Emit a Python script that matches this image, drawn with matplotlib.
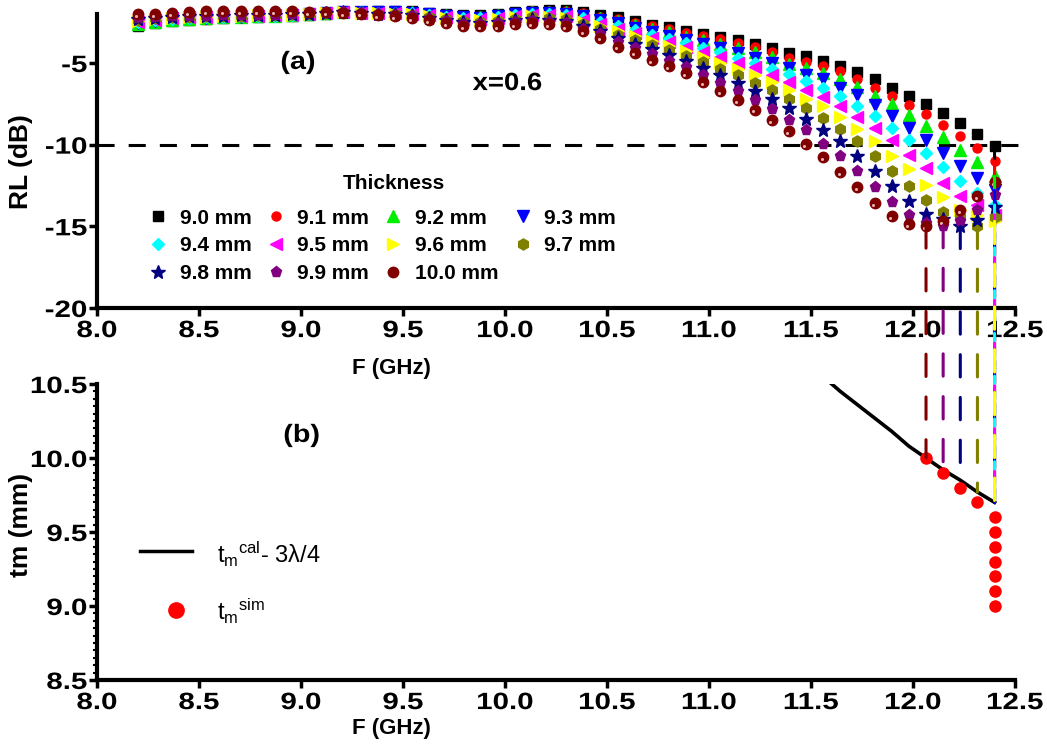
import numpy as np
import matplotlib
matplotlib.use("Agg")
import matplotlib.pyplot as plt
import matplotlib.patheffects as pe
from matplotlib.patches import ConnectionPatch
from matplotlib.transforms import offset_copy, Affine2D

plt.rcParams['font.family'] = ['Liberation Sans', 'DejaVu Sans']
plt.rcParams['axes.unicode_minus'] = False
plt.rcParams['mathtext.fontset'] = 'custom'
plt.rcParams['mathtext.rm'] = 'Liberation Sans'
plt.rcParams['mathtext.it'] = 'Liberation Sans:italic'
plt.rcParams['mathtext.bf'] = 'Liberation Sans:bold'


class HStretch(pe.AbstractPathEffect):
    """Widen a text path horizontally about its left, centre or right edge."""

    def __init__(self, sx, anchor='center'):
        super().__init__()
        self.sx = sx
        self.anchor = anchor

    def draw_path(self, renderer, gc, tpath, affine, rgbFace=None):
        ext = tpath.get_extents(affine)
        if self.anchor == 'right':
            x0 = ext.x1
        elif self.anchor == 'left':
            x0 = ext.x0
        else:
            x0 = 0.5 * (ext.x0 + ext.x1)
        aff = affine + Affine2D().translate(-x0, 0).scale(self.sx, 1).translate(x0, 0)
        renderer.draw_path(gc, tpath, aff, rgbFace)


# ---------------- data ----------------
freq = np.round(np.linspace(8.2, 12.4, 51), 3)   # GHz, X-band sweep

labels = ['9.0 mm', '9.1 mm', '9.2 mm', '9.3 mm', '9.4 mm', '9.5 mm',
          '9.6 mm', '9.7 mm', '9.8 mm', '9.9 mm', '10.0 mm']
thickness = [9.0, 9.1, 9.2, 9.3, 9.4, 9.5, 9.6, 9.7, 9.8, 9.9, 10.0]

rl_90 = [-2.72, -2.55, -2.42, -2.34, -2.28, -2.24, -2.20, -2.17, -2.14, -2.10,
         -2.05, -1.98, -1.90, -1.86, -1.84, -1.83, -1.84, -1.92, -2.02, -2.08,
         -2.08, -2.00, -1.88, -1.80, -1.75, -1.78, -1.90, -2.09, -2.21, -2.45,
         -2.65, -2.82, -3.05, -3.20, -3.38, -3.62, -3.85, -4.08, -4.37, -4.58,
         -4.89, -5.20, -5.56, -6.01, -6.52, -6.99, -7.50, -8.06, -8.70, -9.35, -10.10]
rl_91 = [-2.66, -2.51, -2.39, -2.31, -2.26, -2.22, -2.19, -2.16, -2.13, -2.09,
         -2.04, -1.97, -1.90, -1.87, -1.86, -1.85, -1.86, -1.95, -2.05, -2.12,
         -2.12, -2.04, -1.92, -1.84, -1.79, -1.83, -1.96, -2.16, -2.30, -2.55,
         -2.76, -2.94, -3.18, -3.35, -3.55, -3.80, -4.05, -4.30, -4.70, -4.95,
         -5.20, -5.50, -6.01, -6.52, -6.99, -7.55, -8.10, -8.77, -9.49, -10.20, -11.00]
rl_92 = [-2.61, -2.47, -2.36, -2.29, -2.24, -2.20, -2.17, -2.14, -2.12, -2.08,
         -2.03, -1.96, -1.90, -1.88, -1.88, -1.87, -1.89, -1.98, -2.09, -2.16,
         -2.17, -2.09, -1.97, -1.89, -1.86, -1.90, -2.05, -2.27, -2.44, -2.70,
         -2.93, -3.13, -3.39, -3.58, -3.81, -4.09, -4.30, -4.65, -5.05, -5.29,
         -5.60, -6.01, -6.46, -6.99, -7.50, -8.16, -8.83, -9.55, -10.35, -11.07, -11.94]
rl_93 = [-2.56, -2.43, -2.33, -2.26, -2.22, -2.19, -2.16, -2.13, -2.11, -2.07,
         -2.02, -1.96, -1.90, -1.89, -1.90, -1.90, -1.92, -2.01, -2.13, -2.21,
         -2.22, -2.14, -2.02, -1.94, -1.93, -1.98, -2.15, -2.37, -2.58, -2.85,
         -3.10, -3.32, -3.59, -3.82, -4.08, -4.38, -4.72, -5.00, -5.30, -5.71,
         -5.97, -6.52, -6.93, -7.55, -8.26, -8.98, -9.69, -10.51, -11.33, -12.05, -12.80]
rl_94 = [-2.51, -2.39, -2.30, -2.24, -2.20, -2.17, -2.14, -2.12, -2.10, -2.06,
         -2.01, -1.95, -1.90, -1.90, -1.92, -1.92, -1.95, -2.05, -2.17, -2.26,
         -2.27, -2.20, -2.08, -2.00, -2.00, -2.05, -2.24, -2.48, -2.73, -3.00,
         -3.27, -3.51, -3.80, -4.06, -4.34, -4.67, -5.00, -5.35, -5.68, -6.12,
         -6.52, -7.04, -7.65, -8.26, -8.98, -9.69, -10.51, -11.37, -12.25, -12.95, -13.70]
rl_95 = [-2.46, -2.35, -2.27, -2.21, -2.18, -2.15, -2.13, -2.10, -2.08, -2.05,
         -2.00, -1.94, -1.90, -1.91, -1.94, -1.95, -1.98, -2.09, -2.21, -2.31,
         -2.33, -2.26, -2.14, -2.06, -2.07, -2.14, -2.34, -2.60, -2.89, -3.18,
         -3.46, -3.73, -4.03, -4.32, -4.64, -5.00, -5.25, -5.75, -6.15, -6.63,
         -7.07, -7.65, -8.30, -8.98, -9.69, -10.61, -11.43, -12.35, -13.17, -13.70, -14.30]
rl_96 = [-2.41, -2.31, -2.24, -2.19, -2.16, -2.14, -2.11, -2.09, -2.07, -2.04,
         -1.99, -1.94, -1.90, -1.92, -1.96, -1.97, -2.01, -2.13, -2.26, -2.37,
         -2.39, -2.33, -2.21, -2.13, -2.16, -2.23, -2.46, -2.74, -3.06, -3.37,
         -3.68, -3.97, -4.29, -4.62, -4.97, -5.36, -5.72, -6.19, -6.65, -7.18,
         -7.65, -8.33, -9.02, -9.75, -10.72, -11.49, -12.45, -13.23, -13.99, -14.30, -14.70]
rl_97 = [-2.36, -2.27, -2.21, -2.16, -2.14, -2.12, -2.10, -2.08, -2.06, -2.03,
         -1.98, -1.93, -1.90, -1.93, -1.98, -2.00, -2.04, -2.17, -2.31, -2.43,
         -2.46, -2.40, -2.28, -2.21, -2.25, -2.33, -2.59, -2.89, -3.26, -3.58,
         -3.91, -4.23, -4.58, -4.94, -5.34, -5.76, -6.21, -6.67, -7.20, -7.75,
         -8.36, -9.04, -9.75, -10.72, -11.64, -12.52, -13.37, -14.15, -14.45, -15.00, -14.40]
rl_98 = [-2.31, -2.23, -2.18, -2.14, -2.12, -2.10, -2.08, -2.06, -2.05, -2.02,
         -1.97, -1.92, -1.90, -1.94, -2.00, -2.03, -2.08, -2.22, -2.37, -2.50,
         -2.54, -2.48, -2.37, -2.30, -2.35, -2.45, -2.73, -3.05, -3.47, -3.81,
         -4.17, -4.52, -4.89, -5.29, -5.74, -6.20, -6.72, -7.20, -7.77, -8.41,
         -9.08, -9.80, -10.72, -11.60, -12.56, -13.48, -14.25, -14.55, -15.00, -14.60, -13.80]
rl_99 = [-2.25, -2.19, -2.15, -2.11, -2.10, -2.08, -2.06, -2.05, -2.04, -2.01,
         -1.96, -1.92, -1.90, -1.95, -2.03, -2.07, -2.12, -2.28, -2.44, -2.59,
         -2.63, -2.58, -2.47, -2.41, -2.47, -2.58, -2.89, -3.24, -3.72, -4.07,
         -4.47, -4.85, -5.25, -5.71, -6.20, -6.71, -7.24, -7.81, -8.46, -9.13,
         -9.94, -10.72, -11.64, -12.62, -13.54, -14.29, -14.80, -14.95, -14.70, -14.00, -13.10]
rl_100 = [-2.02, -2.00, -1.93, -1.87, -1.83, -1.82, -1.82, -1.82, -1.82, -1.83,
          -1.85, -1.88, -1.92, -1.97, -2.08, -2.14, -2.22, -2.38, -2.55, -2.72,
          -2.76, -2.74, -2.62, -2.56, -2.60, -2.72, -3.07, -3.44, -3.99, -4.36,
          -4.79, -5.21, -5.64, -6.15, -6.70, -7.25, -7.85, -8.47, -9.18, -9.94,
          -10.75, -11.67, -12.62, -13.58, -14.36, -14.85, -14.97, -14.70, -14.00, -13.17, -12.30]

rl_curves = [rl_90, rl_91, rl_92, rl_93, rl_94, rl_95, rl_96, rl_97, rl_98, rl_99, rl_100]

# 3/4-wavelength matching thickness
cal_freq = [11.476, 11.56, 11.644, 11.728, 11.812, 11.896, 11.98,
            12.064, 12.148, 12.232, 12.316, 12.4]
cal_tm = [10.68, 10.55, 10.45, 10.36, 10.27, 10.18, 10.08,
          10.00, 9.92, 9.85, 9.77, 9.70]

# ---------------- styles ----------------
colors = ['#000000', '#ff0000', '#00ee00', '#0000ff', '#00ffff', '#ff00ff',
          '#ffff00', '#808000', '#000080', '#800080', '#800000']
markers = ['s', 'o', '^', 'v', 'D', '<', '>', 'h', '*', 'p', 'o']
msizes = [6.5, 6.5, 8, 8, 6, 8, 8, 8, 10, 8, 7.5]

TICK_SIZE = 17
TICK_SX = 1.25

fig = plt.figure(figsize=(10.47, 7.53), dpi=100)
ax1 = fig.add_axes([0.0926, 0.591, 0.8768, 0.3904])
ax2 = fig.add_axes([0.0926, 0.097, 0.8768, 0.393])

for ax in (ax1, ax2):
    ax.spines['top'].set_visible(False)
    ax.spines['right'].set_visible(False)
    ax.spines['left'].set_linewidth(3)
    ax.spines['bottom'].set_linewidth(3)
    ax.set_xlim(8.0, 12.5)
    xt = np.arange(8.0, 12.51, 0.5)
    ax.set_xticks(xt)
    ax.set_xticklabels([f'{v:.1f}' for v in xt], fontsize=TICK_SIZE, fontweight='bold')
    ax.tick_params(axis='both', which='major', direction='out', length=6,
                   width=2.5, pad=2)

# ---------------- panel (a) ----------------
ax1.set_ylim(-20, -2)
ax1.set_yticks([-20, -15, -10, -5])
ax1.set_yticklabels(['-20', '-15', '-10', '-5'], fontsize=TICK_SIZE, fontweight='bold')
ax1.tick_params(axis='y', pad=1)

ax1.plot([8.0, 12.55], [-10, -10], color='k', lw=2.2,
         linestyle=(0, (5.6, 4.6)), clip_on=False, zorder=2)

handles = []
for i, rl in enumerate(rl_curves):
    h, = ax1.plot(freq, rl, ls='none', marker=markers[i], ms=msizes[i],
                  color=colors[i], mec=colors[i], clip_on=False, zorder=3 + i,
                  label=labels[i])
    handles.append(h)
# glossy highlight on the 10.0 mm spheres
ax1.plot(freq, rl_100, ls='none', marker='o', ms=2.2, color='#e6b3b3',
         mec='none', clip_on=False, zorder=15,
         transform=offset_copy(ax1.transData, fig=fig, x=-1.2, y=-1.4, units='points'))

order = [0, 4, 8, 1, 5, 9, 2, 6, 10, 3, 7]
leg = ax1.legend([handles[k] for k in order], [labels[k] for k in order],
                 ncol=4, loc='upper left', bbox_to_anchor=(0.046, 0.366),
                 frameon=False, prop=dict(size=15, weight='bold'),
                 handlelength=1.0, handletextpad=0.55, columnspacing=0.65,
                 labelspacing=0.42, borderaxespad=0, borderpad=0.4)
ax1.text(0.323, 0.422, 'Thickness', transform=ax1.transAxes, fontsize=15,
         fontweight='bold', ha='center', va='center')

ax1.set_ylabel('RL (dB)', fontsize=19, fontweight='bold')
ax1.yaxis.set_label_coords(-0.0697, 0.497)
ax1.set_xlabel('F (GHz)', fontsize=16, fontweight='bold')
ax1.xaxis.set_label_coords(0.321, -0.170)

ax1.text(0.219, 0.837, '(a)', transform=ax1.transAxes, fontsize=18,
         fontweight='bold', ha='center', va='center',
         path_effects=[HStretch(1.15)])
ax1.text(0.447, 0.765, 'x=0.6', transform=ax1.transAxes, fontsize=18,
         fontweight='bold', ha='center', va='center',
         path_effects=[HStretch(1.1)])

# ---------------- panel (b) ----------------
ax2.set_ylim(8.5, 10.5)
yt = np.arange(8.5, 10.51, 0.5)
ax2.set_yticks(yt)
ax2.set_yticklabels([f'{v:.1f}' for v in yt], fontsize=TICK_SIZE, fontweight='bold')
ax2.set_yticks(np.arange(8.5, 10.501, 0.05), minor=True)
ax2.tick_params(axis='y', which='minor', direction='out', length=3, width=1.5)
ax2.tick_params(axis='y', pad=1)

ax2.plot(cal_freq, cal_tm, color='k', lw=2.6, zorder=3)

# simulated matching thickness: frequency of the RL minimum of each curve
f_sim = [freq[int(np.argmin(rl))] for rl in rl_curves]
ax2.plot(f_sim, thickness, ls='none', marker='o', ms=8, color='#ff0000',
         mec='#ff0000', zorder=5, clip_on=False)

ax2.set_ylabel('tm (mm)', fontsize=19, fontweight='bold')
ax2.yaxis.set_label_coords(-0.0697, 0.524)
ax2.set_xlabel('F (GHz)', fontsize=16, fontweight='bold')
ax2.xaxis.set_label_coords(0.321, -0.128)

ax2.text(0.223, 0.828, '(b)', transform=ax2.transAxes, fontsize=18,
         fontweight='bold', ha='center', va='center',
         path_effects=[HStretch(1.15)])

# key for panel (b)
ax2.plot([0.047, 0.103], [0.436, 0.436], transform=ax2.transAxes,
         color='k', lw=2.5, clip_on=False)
ax2.text(0.131, 0.395, r'$\mathregular{t_m{}^{cal}}$- 3λ/4', transform=ax2.transAxes,
         fontsize=17, va='baseline', ha='left')
ax2.plot([0.086], [0.236], transform=ax2.transAxes, marker='o', ms=11,
         color='#ff0000', ls='none', clip_on=False)
ax2.text(0.131, 0.203, r'$\mathregular{t_m{}^{sim}}$', transform=ax2.transAxes,
         fontsize=17, va='baseline', ha='left')

# widen the tick labels
for ax in (ax1, ax2):
    for lab in ax.get_xticklabels():
        lab.set_path_effects([HStretch(TICK_SX, 'center')])
    for lab in ax.get_yticklabels():
        lab.set_path_effects([HStretch(TICK_SX, 'right')])

# dashed guides linking each RL minimum to its matching thickness
for i, rl in enumerate(rl_curves):
    k = int(np.argmin(rl))
    f = freq[k]
    t_cal = float(np.interp(f, cal_freq, cal_tm))
    con = ConnectionPatch(xyA=(f, rl[k]), coordsA=ax1.transData,
                          xyB=(f, t_cal), coordsB=ax2.transData,
                          color=colors[i], lw=2.2, linestyle=(0, (7.3, 6.7)),
                          zorder=6 + i)
    fig.add_artist(con)

fig.savefig('out.png', dpi=100, facecolor='white')
